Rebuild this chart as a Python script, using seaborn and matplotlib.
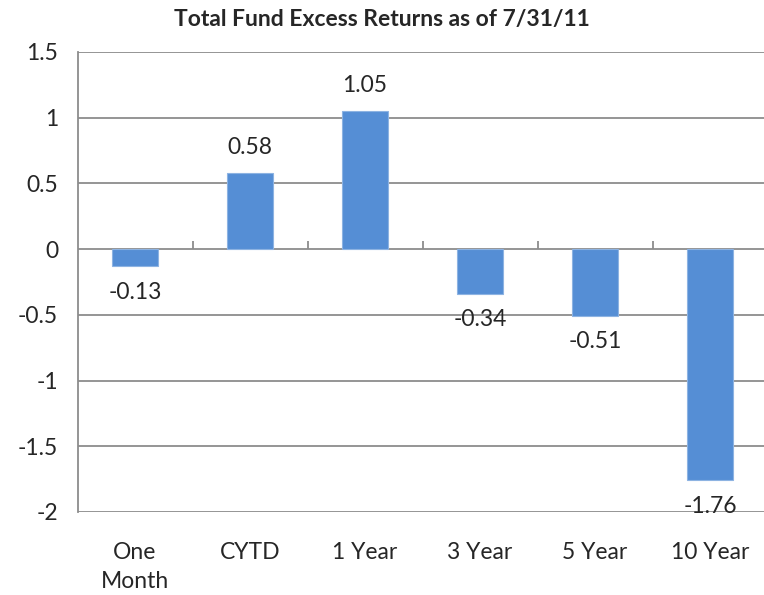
import matplotlib
matplotlib.use("Agg")
import matplotlib.pyplot as plt
import pandas as pd
import seaborn as sns

# chart data
periods = ["One\nMonth", "CYTD", "1 Year", "3 Year", "5 Year", "10 Year"]
excessReturns = [-0.13, 0.58, 1.05, -0.34, -0.51, -1.76]
yTicks = [-2, -1.5, -1, -0.5, 0, 0.5, 1, 1.5]

barColor = "#558ED5"
gridColor = "#8C8C8C"

sns.set_style("white")
plt.rcParams["font.family"] = ["Lato", "DejaVu Sans"]

df = pd.DataFrame({"period": periods, "excess": excessReturns})

fig = plt.figure(figsize=(7.64, 5.95), dpi=100)
ax = fig.add_axes([77.5 / 764, 83 / 595, 690 / 764, 460 / 595])

sns.barplot(data=df, x="period", y="excess", color=barColor, width=0.4,
            saturation=1, edgecolor="#8DB3E2", linewidth=0.8, ax=ax, zorder=3)

ax.set_xlim(-0.5, len(periods) - 0.5)
ax.set_ylim(yTicks[0], yTicks[-1])
ax.set_yticks(yTicks)
ax.set_yticklabels([f"{t:g}" for t in yTicks])
ax.yaxis.grid(True, color=gridColor, linewidth=1.3, zorder=0)
ax.set_axisbelow(True)

for side in ["top", "right", "bottom"]:
    ax.spines[side].set_visible(False)
ax.spines["left"].set_color(gridColor)
ax.spines["left"].set_linewidth(1.3)

ax.tick_params(axis="y", direction="out", length=6, width=1.3, color=gridColor,
               labelsize=16.5, pad=8)
ax.tick_params(axis="x", length=0, labelsize=16.5, pad=21.5)
for lbl in ax.get_xticklabels():
    lbl.set_linespacing(1.45)
ax.set_xlabel("")
ax.set_ylabel("")

# category axis drawn along zero
zeroLoc = (0 - yTicks[0]) / (yTicks[-1] - yTicks[0])
catAxis = ax.secondary_xaxis(zeroLoc)
catAxis.set_xticks([i + 0.5 for i in range(len(periods) - 1)])
catAxis.set_xticklabels([])
catAxis.tick_params(direction="out", length=6, width=1.3, color=gridColor)
catAxis.spines["bottom"].set_color(gridColor)
catAxis.spines["bottom"].set_linewidth(1.3)
catAxis.spines["top"].set_visible(False)

# value labels
for cont in ax.containers:
    ax.bar_label(cont, labels=[f"{v:g}" for v in excessReturns], padding=11,
                 fontsize=16.5, zorder=4)

ax.set_title("Total Fund Excess Returns as of 7/31/11", fontsize=16.5,
             fontweight="bold", pad=19, x=0.441)

plt.savefig("out.png", dpi=100)
